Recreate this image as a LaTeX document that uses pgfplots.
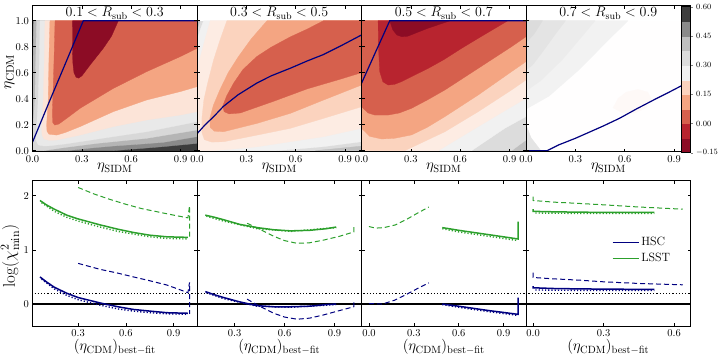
\RequirePackage{fix-cm}
\documentclass[border=0pt]{standalone}
\usepackage{pgfplots}
\pgfplotsset{compat=1.18}

% contour band colours, lowest level first
\definecolor{c0}{HTML}{8C0C25}
\definecolor{c1}{HTML}{B8242F}
\definecolor{c2}{HTML}{D6604D}
\definecolor{c3}{HTML}{F4A582}
\definecolor{c4}{HTML}{FBD3BE}
\definecolor{c5}{HTML}{FDECE3}
\definecolor{c6}{HTML}{F1F1F1}
\definecolor{c7}{HTML}{DCDCDC}
\definecolor{c8}{HTML}{BFBFBF}
\definecolor{c9}{HTML}{8A8A8A}
\definecolor{c10}{HTML}{3D3D3D}
\definecolor{navy}{HTML}{000080}
\definecolor{lgreen}{HTML}{2CA02C}

\tikzset{ptitle/.style={anchor=north, font=\fontsize{14}{16}\selectfont, inner sep=1.5pt}}

\pgfplotsset{
  band/.style={fill=#1, draw=#1, line width=0.3pt},
  base/.style={scale only axis, anchor=north west, tick align=inside,
    major tick length=3pt, axis line style={line width=0.7pt},
    tick style={black, line width=0.5pt},
    tick label style={font=\fontsize{10.5}{12}\selectfont}},
  toprow/.style={base, width=164.5pt, height=146pt,
    xmin=0, xmax=1, ymin=-0.008, ymax=1.115, axis on top,
    xtick={0,0.3,0.6,0.9}, ytick={0,0.2,0.4,0.6,0.8,1.0},
    x tick label style={/pgf/number format/.cd, fixed, fixed zerofill, precision=1},
    y tick label style={/pgf/number format/.cd, fixed, fixed zerofill, precision=1}},
  botrow/.style={base, width=164.5pt, height=145.3pt,
    ymin=-0.405, ymax=2.275, xtick={0,0.3,0.6,0.9}, ytick={0,1,2},
    x tick label style={/pgf/number format/.cd, fixed, fixed zerofill, precision=1}},
  sol/.style={#1, line width=1.5pt},
  dsh/.style={#1, line width=1pt, dash pattern=on 5pt off 3pt},
  dot/.style={#1, line width=1.4pt, dash pattern=on 1.2pt off 2pt},
  refl/.style={black, line width=1.2pt},
}

\begin{document}
\begin{tikzpicture}
\useasboundingbox (0pt,0pt) rectangle (719pt,-357pt);

% ---------------- top row: contour panels ----------------
\begin{axis}[toprow, at={(32.5pt,-5.7pt)}]
\addplot[band=c10] coordinates {(0,0)(1,0)(1,1)(0,1)} --cycle;
\addplot[band=c9] coordinates {(0.005,1)(0.002,0.85)(0,0.75)(0,0)(0.49,0)(0.65,0.016)(0.795,0.031)(1,0.056)(1,1)} --cycle;
\addplot[band=c8!85!gray] coordinates {(0.009,1)(0.004,0.7)(0,0.48)(0,0)(0.208,0)(0.35,0.02)(0.491,0.036)(0.65,0.05)(0.795,0.064)(1,0.108)(1,1)} --cycle;
\addplot[band=c7!85!c8] coordinates {(0.025,1)(0.02,0.7)(0.015,0.403)(0.005,0.197)(0,0.146)(0,0)(0.066,0)(0.187,0.023)(0.39,0.056)(0.694,0.095)(1,0.159)(1,1)} --cycle;
\addplot[band=c6!60!c7] coordinates {(0.046,1)(0.042,0.7)(0.035,0.403)(0.025,0.172)(0.021,0.082)(0.035,0.044)(0.07,0.036)(0.106,0.038)(0.2,0.052)(0.289,0.069)(0.491,0.108)(0.694,0.146)(1,0.223)(1,1)} --cycle;
\addplot[band=c5!70!c4] coordinates {(0.076,1)(0.072,0.7)(0.066,0.403)(0.056,0.172)(0.058,0.12)(0.07,0.09)(0.1,0.08)(0.147,0.082)(0.289,0.12)(0.491,0.185)(0.694,0.236)(0.897,0.274)(1,0.30)(1,1)} --cycle;
\addplot[band=c3] coordinates {(0.106,1)(0.1,0.7)(0.096,0.403)(0.086,0.197)(0.088,0.15)(0.1,0.127)(0.147,0.12)(0.2,0.14)(0.289,0.185)(0.491,0.3)(0.694,0.39)(0.897,0.454)(1,0.492)(1,1)} --cycle;
\addplot[band=c2] coordinates {(0.137,1)(0.132,0.75)(0.127,0.531)(0.121,0.3)(0.122,0.22)(0.135,0.197)(0.16,0.205)(0.208,0.249)(0.289,0.326)(0.491,0.479)(0.694,0.608)(0.897,0.723)(1,0.787)(1,1)} --cycle;
\addplot[band=c0] coordinates {(0.244,1)(0.243,0.8)(0.245,0.68)(0.252,0.6)(0.265,0.565)(0.28,0.558)(0.30,0.575)(0.35,0.659)(0.43,0.787)(0.48,0.88)(0.522,1)} --cycle;
\addplot[navy, line width=1.2pt] coordinates {(0,0.065)(0.1,0.37)(0.2,0.67)(0.309,1.0)(1,1.0)};
\node[ptitle] at (rel axis cs:0.5,1) {$0.1 < R_{\rm sub} < 0.3$};
\end{axis}

\begin{axis}[toprow, at={(197pt,-5.7pt)}, yticklabels={}]
\addplot[band=c7] coordinates {(0,0)(1,0)(1,1)(0,1)} --cycle;
\addplot[band=c8] coordinates {(0.72,0)(1,0)(1,0.035)} --cycle;
\addplot[band=c8] coordinates {(0,1)(0.018,1)(0,0.93)} --cycle;
\addplot[band=c6] coordinates {(0.04,1)(0.02,0.93)(0,0.85)(0,0)(0.47,0)(0.6,0.012)(0.77,0.031)(1,0.069)(1,1)} --cycle;
\addplot[band=c5] coordinates {(0.081,1)(0.05,0.86)(0.02,0.72)(0,0.646)(0,0)(0.08,0)(0.2,0.01)(0.365,0.03)(0.567,0.069)(0.77,0.108)(1,0.172)(1,1)} --cycle;
\addplot[band=c4] coordinates {(0.182,1)(0.14,0.85)(0.101,0.697)(0.065,0.52)(0.042,0.39)(0.03,0.25)(0.03,0.14)(0.045,0.085)(0.09,0.066)(0.162,0.069)(0.365,0.12)(0.567,0.172)(0.77,0.249)(1,0.338)(1,1)} --cycle;
\addplot[band=c3] coordinates {(0.426,1)(0.33,0.86)(0.25,0.72)(0.19,0.6)(0.14,0.47)(0.1,0.35)(0.078,0.25)(0.08,0.18)(0.105,0.15)(0.162,0.146)(0.365,0.21)(0.567,0.287)(0.77,0.39)(1,0.505)(1,1)} --cycle;
\addplot[band=c2] coordinates {(0.77,1)(0.67,0.935)(0.567,0.875)(0.45,0.795)(0.365,0.725)(0.28,0.625)(0.223,0.52)(0.18,0.42)(0.157,0.345)(0.165,0.3)(0.195,0.283)(0.263,0.29)(0.466,0.38)(0.669,0.475)(0.871,0.55)(1,0.6)(1,1)} --cycle;
\addplot[navy, line width=1.2pt] coordinates {(0,0.13)(0.05,0.2)(0.10,0.26)(0.16,0.34)(0.25,0.43)(0.364,0.52)(0.45,0.575)(0.567,0.634)(0.67,0.69)(0.77,0.74)(0.88,0.81)(1,0.89)};
\node[ptitle] at (rel axis cs:0.5,1) {$0.3 < R_{\rm sub} < 0.5$};
\end{axis}

\begin{axis}[toprow, at={(361.5pt,-5.7pt)}, yticklabels={}]
\addplot[band=c8] coordinates {(0,0)(1,0)(1,1)(0,1)} --cycle;
\addplot[band=c7] coordinates {(0,1)(0,0)(0.912,0)(1,0.082)(1,1)} --cycle;
\addplot[band=c6] coordinates {(0,1)(0,0)(0.669,0)(0.871,0.172)(1,0.262)(1,1)} --cycle;
\addplot[band=c5] coordinates {(0,1)(0,0)(0.466,0)(0.709,0.185)(0.912,0.338)(1,0.403)(1,1)} --cycle;
\addplot[band=c4] coordinates {(0,1)(0,0)(0.263,0)(0.507,0.146)(0.709,0.3)(0.912,0.467)(1,0.544)(1,1)} --cycle;
\addplot[band=c3] coordinates {(0,1)(0,0.172)(0.05,0.11)(0.122,0.09)(0.2,0.095)(0.304,0.121)(0.4,0.18)(0.507,0.262)(0.709,0.428)(0.912,0.608)(1,0.685)(1,1)} --cycle;
\addplot[band=c2] coordinates {(0,1)(0,0.338)(0.04,0.29)(0.081,0.274)(0.162,0.274)(0.23,0.29)(0.304,0.326)(0.4,0.39)(0.507,0.467)(0.709,0.633)(0.912,0.8)(1,0.877)(1,1)} --cycle;
\addplot[band=c1] coordinates {(0.101,1)(0.103,0.8)(0.111,0.608)(0.13,0.53)(0.162,0.505)(0.2,0.51)(0.243,0.531)(0.32,0.58)(0.405,0.633)(0.5,0.7)(0.608,0.787)(0.71,0.865)(0.81,0.94)(0.89,1)} --cycle;
\addplot[band=c0] coordinates {(0.172,1)(0.19,0.93)(0.215,0.89)(0.245,0.877)(0.28,0.88)(0.32,0.9)(0.4,0.94)(0.47,0.97)(0.54,1)} --cycle;
\addplot[navy, line width=1.2pt] coordinates {(0,0.518)(0.086,0.76)(0.172,1)(1,1)};
\node[ptitle] at (rel axis cs:0.5,1) {$0.5 < R_{\rm sub} < 0.7$};
\end{axis}

\begin{axis}[toprow, at={(526pt,-5.7pt)}, yticklabels={}]
\addplot[fill=white!96!c5, draw=none] coordinates {(0,0)(1,0)(1,1)(0,1)} --cycle;
\addplot[band=c6!90!white] coordinates {(0,1)(0.62,1)(0.5,0.85)(0.32,0.62)(0.14,0.42)(0,0.32)} --cycle;
\addplot[band=c6!75!c7] coordinates {(0,1)(0.42,1)(0.34,0.88)(0.22,0.7)(0.09,0.54)(0,0.46)} --cycle;
\addplot[band=c7!60!c6] coordinates {(0,1)(0.24,1)(0.18,0.9)(0.1,0.76)(0.04,0.66)(0,0.62)} --cycle;
\addplot[band=c7] coordinates {(0,1)(0.1,1)(0.05,0.9)(0,0.83)} --cycle;
\addplot[band=c7!60!c6] coordinates {(0,0)(0,0.2)(0.03,0.1)(0.09,0)} --cycle;
\addplot[band=white!70!c5] coordinates {(0.53,0.33)(0.56,0.40)(0.61,0.45)(0.68,0.47)(0.74,0.45)(0.76,0.40)(0.73,0.33)(0.66,0.29)(0.59,0.29)} --cycle;
\addplot[navy, line width=1.2pt] coordinates {(0,0)(0.128,0)(0.2,0.045)(0.3,0.095)(0.37,0.134)(0.47,0.19)(0.57,0.25)(0.67,0.32)(0.776,0.39)(0.87,0.45)(0.946,0.50)(1,0.53)};
\node[ptitle] at (rel axis cs:0.5,1) {$0.7 < R_{\rm sub} < 0.9$};
\end{axis}

% colour bar
\begin{axis}[scale only axis, anchor=north west, at={(681.7pt,-6.7pt)},
  width=9pt, height=146pt, xmin=0, xmax=1, ymin=-0.15, ymax=0.6,
  xtick=\empty, ytick={-0.15,0,0.15,0.3,0.45,0.6},
  ytick pos=right, yticklabel pos=right, tick align=outside,
  major tick length=2pt, axis on top, axis line style={line width=0.6pt},
  y tick label style={font=\fontsize{8}{9}\selectfont,
    /pgf/number format/.cd, fixed, fixed zerofill, precision=2}]
\addplot[band=c0] coordinates {(0,-0.15)(1,-0.15)(1,-0.075)(0,-0.075)} --cycle;
\addplot[band=c1] coordinates {(0,-0.075)(1,-0.075)(1,0)(0,0)} --cycle;
\addplot[band=c2] coordinates {(0,0)(1,0)(1,0.075)(0,0.075)} --cycle;
\addplot[band=c3] coordinates {(0,0.075)(1,0.075)(1,0.15)(0,0.15)} --cycle;
\addplot[band=c4] coordinates {(0,0.15)(1,0.15)(1,0.225)(0,0.225)} --cycle;
\addplot[band=c6] coordinates {(0,0.225)(1,0.225)(1,0.3)(0,0.3)} --cycle;
\addplot[band=c7] coordinates {(0,0.3)(1,0.3)(1,0.375)(0,0.375)} --cycle;
\addplot[band=c8] coordinates {(0,0.375)(1,0.375)(1,0.45)(0,0.45)} --cycle;
\addplot[band=c9] coordinates {(0,0.45)(1,0.45)(1,0.525)(0,0.525)} --cycle;
\addplot[band=c10] coordinates {(0,0.525)(1,0.525)(1,0.6)(0,0.6)} --cycle;
\end{axis}

% ---------------- bottom row: chi^2 curves ----------------
\begin{axis}[botrow, at={(32.5pt,-180.7pt)}, xmin=0.013, xmax=1.047]
\addplot[refl] coordinates {(-1,0)(2,0)};
\addplot[refl, dash pattern=on 1.2pt off 2pt] coordinates {(-1,0.2)(2,0.2)};
\addplot[dot=lgreen] coordinates {(0.07,1.87)(0.15,1.71)(0.228,1.60)(0.30,1.53)(0.438,1.42)(0.55,1.34)(0.648,1.29)(0.75,1.24)(0.859,1.21)(0.99,1.20)};
\addplot[sol=lgreen] coordinates {(0.06,1.91)(0.10,1.83)(0.15,1.75)(0.228,1.64)(0.30,1.57)(0.438,1.46)(0.55,1.38)(0.648,1.32)(0.75,1.27)(0.859,1.24)(0.99,1.23)};
\addplot[dsh=lgreen] coordinates {(0.30,2.15)(0.40,2.03)(0.50,1.93)(0.60,1.84)(0.70,1.76)(0.80,1.70)(0.90,1.64)(0.99,1.59)(1.0,1.81)(1.0,1.19)};
\addplot[dot=navy] coordinates {(0.07,0.46)(0.15,0.28)(0.228,0.16)(0.30,0.08)(0.438,-0.02)(0.55,-0.09)(0.648,-0.13)(0.75,-0.16)(0.859,-0.18)(0.99,-0.19)};
\addplot[sol=navy] coordinates {(0.06,0.50)(0.10,0.41)(0.15,0.31)(0.228,0.20)(0.30,0.12)(0.438,0.02)(0.55,-0.05)(0.648,-0.10)(0.75,-0.13)(0.859,-0.16)(0.99,-0.17)};
\addplot[dsh=navy] coordinates {(0.30,0.75)(0.438,0.64)(0.55,0.57)(0.648,0.50)(0.75,0.43)(0.859,0.35)(0.99,0.21)(1.0,0.40)(1.0,-0.18)};
\end{axis}

\begin{axis}[botrow, at={(197pt,-180.7pt)}, xmin=0.074, xmax=1.062, yticklabels={}]
\addplot[refl] coordinates {(-1,0)(2,0)};
\addplot[refl, dash pattern=on 1.2pt off 2pt] coordinates {(-1,0.2)(2,0.2)};
\addplot[dot=lgreen] coordinates {(0.13,1.62)(0.234,1.53)(0.435,1.39)(0.635,1.34)(0.91,1.41)};
\addplot[sol=lgreen] coordinates {(0.124,1.64)(0.18,1.60)(0.234,1.555)(0.33,1.47)(0.435,1.41)(0.535,1.37)(0.635,1.35)(0.75,1.36)(0.85,1.39)(0.91,1.42)};
\addplot[dsh=lgreen] coordinates {(0.375,1.49)(0.45,1.38)(0.535,1.25)(0.60,1.17)(0.675,1.12)(0.75,1.13)(0.835,1.18)(0.93,1.25)(1.016,1.33)(1.016,1.44)};
\addplot[dot=navy] coordinates {(0.13,0.21)(0.234,0.10)(0.435,-0.04)(0.635,-0.06)(0.91,-0.01)};
\addplot[sol=navy] coordinates {(0.124,0.23)(0.18,0.17)(0.234,0.12)(0.33,0.04)(0.435,-0.03)(0.535,-0.05)(0.635,-0.05)(0.75,-0.04)(0.85,-0.01)(0.91,0.0)};
\addplot[dsh=navy] coordinates {(0.375,0.09)(0.45,-0.04)(0.535,-0.17)(0.60,-0.24)(0.675,-0.28)(0.75,-0.26)(0.835,-0.2)(0.93,-0.12)(1.016,-0.05)(1.016,0.04)};
\end{axis}

\begin{axis}[botrow, at={(361.5pt,-180.7pt)}, xmin=-0.05, xmax=1.05, yticklabels={}]
\addplot[refl] coordinates {(-1,0)(2,0)};
\addplot[refl, dash pattern=on 1.2pt off 2pt] coordinates {(-1,0.2)(2,0.2)};
\addplot[dsh=lgreen] coordinates {(0,1.43)(0.043,1.40)(0.10,1.41)(0.177,1.46)(0.25,1.56)(0.32,1.67)(0.40,1.79)};
\addplot[dot=lgreen] coordinates {(0.49,1.39)(0.6,1.33)(0.8,1.25)(0.997,1.17)};
\addplot[sol=lgreen] coordinates {(0.49,1.41)(0.6,1.36)(0.7,1.32)(0.8,1.28)(0.9,1.24)(0.997,1.20)(0.997,1.52)};
\addplot[dsh=navy] coordinates {(0,0.01)(0.09,0.0)(0.17,0.07)(0.245,0.17)(0.32,0.28)(0.40,0.39)};
\addplot[dot=navy] coordinates {(0.49,-0.01)(0.6,-0.06)(0.8,-0.14)(0.997,-0.21)};
\addplot[sol=navy] coordinates {(0.49,0.0)(0.6,-0.04)(0.7,-0.08)(0.8,-0.12)(0.9,-0.155)(0.997,-0.19)(0.997,0.12)};
\end{axis}

\begin{axis}[botrow, at={(526pt,-180.7pt)}, xmin=-0.03, xmax=0.67, yticklabels={},
  legend style={at={(rel axis cs:0.52,0.625)}, anchor=north west, draw=none,
    fill=none, inner sep=0pt, row sep=2pt, font=\fontsize{12}{14}\selectfont},
  legend cell align=left,
  legend image code/.code={\draw[#1] (0pt,0pt) -- (26pt,0pt);}]
\addplot[refl, forget plot] coordinates {(-1,0)(2,0)};
\addplot[refl, dash pattern=on 1.2pt off 2pt, forget plot] coordinates {(-1,0.2)(2,0.2)};
\addplot[dsh=lgreen, forget plot] coordinates {(0,1.98)(0,1.91)(0.087,1.88)(0.2,1.855)(0.30,1.83)(0.45,1.79)(0.637,1.75)};
\addplot[dot=lgreen, forget plot] coordinates {(0.01,1.68)(0.1,1.675)(0.3,1.67)(0.516,1.67)};
\addplot[sol=lgreen, forget plot] coordinates {(0,1.75)(0,1.71)(0.1,1.70)(0.3,1.69)(0.516,1.69)};
\addplot[dsh=navy, forget plot] coordinates {(0,0.58)(0,0.49)(0.087,0.465)(0.2,0.44)(0.3,0.41)(0.45,0.38)(0.637,0.355)};
\addplot[dot=navy, forget plot] coordinates {(0.01,0.26)(0.1,0.255)(0.3,0.25)(0.516,0.25)};
\addplot[sol=navy, forget plot] coordinates {(0,0.33)(0,0.30)(0.1,0.285)(0.3,0.275)(0.516,0.27)};
\addlegendimage{navy, line width=1.5pt}
\addlegendentry{HSC}
\addlegendimage{lgreen, line width=1.5pt}
\addlegendentry{LSST}
\end{axis}

% axis labels
\foreach \cx in {114.75,279.25,443.75,608.25} {
  \node[font=\fontsize{15}{18}\selectfont] at (\cx pt,-168pt) {$\eta_{\rm SIDM}$};
  \node[font=\fontsize{15}{18}\selectfont] at (\cx pt,-347pt) {$(\eta_{\rm CDM})_{\rm best-fit}$};
}
\node[rotate=90, font=\fontsize{16}{19}\selectfont] at (9.5pt,-72pt) {$\eta_{\rm CDM}$};
\node[rotate=90, font=\fontsize{17}{20}\selectfont] at (10pt,-256pt) {$\log(\chi^2_{\rm min})$};
\end{tikzpicture}
\end{document}
